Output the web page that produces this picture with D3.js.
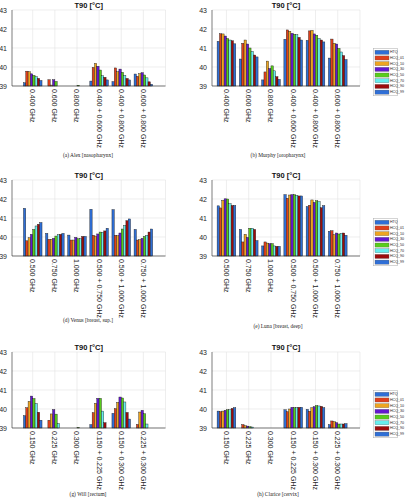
<!DOCTYPE html>
<html><head><meta charset="utf-8">
<script src="https://cdn.jsdelivr.net/npm/d3@7"></script>
<style>body{margin:0;background:#fff}svg{display:block}</style>
</head><body><svg id="c" width="409" height="500"></svg>
<script>
const series = ["HTQ","HCQ_01","HCQ_10","HCQ_30","HCQ_50","HCQ_70","HCQ_90","HCQ_99"];
const catsAlex = ["0.400 GHz","0.600 GHz","0.800 GHz","0.400 + 0.600 GHz","0.400 + 0.800 GHz","0.600 + 0.800 GHz"];
const catsMurphy = catsAlex;
const catsVenus = ["0.500 GHz","0.750 GHz","1.000 GHz","0.500 + 0.750 GHz","0.500 + 1.000 GHz","0.750 + 1.000 GHz"];
const catsLuna = catsVenus;
const catsWill = ["0.150 GHz","0.225 GHz","0.300 GHz","0.150 + 0.225 GHz","0.150 + 0.300 GHz","0.225 + 0.300 GHz"];
const catsClarice = catsWill;
const yTicks = [39,40,41,42,43];

const alex = [
  [39.17,39.78,39.75,39.64,39.56,39.49,39.40,39.29],
  [38.90,39.33,39.05,39.33,39.24,38.95,38.90,38.90],
  [38.90,38.90,38.90,38.90,39.04,38.90,38.90,38.90],
  [39.26,39.98,40.19,40.04,39.84,39.54,39.46,39.32],
  [39.23,39.95,39.75,39.89,39.72,39.56,39.40,39.32],
  [39.63,39.51,39.65,39.70,39.58,39.43,39.22,39.09]
];
const murphy = [
  [41.35,41.75,41.74,41.63,41.50,41.42,41.38,41.22],
  [40.42,41.25,41.42,41.21,41.00,40.82,40.63,40.53],
  [39.32,39.74,40.31,39.92,40.06,39.80,39.49,39.35],
  [41.46,41.95,41.88,41.77,41.72,41.70,41.56,41.42],
  [41.40,41.90,41.93,41.74,41.67,41.50,41.42,41.32],
  [40.47,41.47,41.25,41.21,40.98,40.79,40.60,40.39]
];
const venus = [
  [41.51,39.80,39.96,40.14,40.40,40.58,40.67,40.76],
  [40.19,39.88,39.88,39.93,40.05,40.12,40.14,40.19],
  [40.10,39.84,39.84,39.98,39.91,39.91,40.03,40.03],
  [41.46,40.09,40.05,40.16,40.26,40.25,40.32,40.46],
  [41.44,40.09,40.07,40.21,40.42,40.61,40.86,40.95],
  [40.40,39.84,39.86,39.93,40.03,40.09,40.26,40.42]
];
const luna = [
  [41.64,41.53,41.93,42.01,42.00,41.75,41.66,41.66],
  [40.40,39.74,40.14,39.98,40.46,40.46,40.40,39.81],
  [39.53,39.74,39.68,39.65,39.65,39.53,39.51,39.51],
  [42.23,42.04,42.21,42.23,42.23,42.19,42.16,42.16],
  [41.60,41.67,41.95,41.82,41.91,41.86,41.54,41.65],
  [40.30,40.33,40.12,40.21,40.16,40.19,40.21,40.09]
];
const will = [
  [39.65,40.07,40.40,40.68,40.55,40.29,39.83,39.41],
  [38.90,39.41,39.74,39.97,39.73,39.24,38.90,38.90],
  [38.90,38.90,38.90,38.90,39.03,38.90,38.90,38.90],
  [39.18,39.81,40.30,40.56,40.56,39.89,39.28,38.90],
  [39.77,40.02,40.35,40.63,40.58,40.37,39.82,39.47],
  [38.90,39.19,39.84,39.93,39.75,39.21,38.90,38.90]
];
const clarice = [
  [39.89,39.86,39.89,39.93,39.96,39.96,40.03,40.07],
  [38.90,39.18,39.12,39.10,39.07,39.05,38.90,38.90],
  [38.90,38.90,38.90,38.90,38.90,38.90,38.90,38.90],
  [39.96,39.86,40.00,40.09,40.07,40.07,40.09,40.09],
  [39.98,39.88,40.07,40.12,40.18,40.16,40.14,40.07],
  [39.18,39.37,39.33,39.28,39.21,39.21,39.21,39.23]
];

const colors = ["#2f6fd6","#e0401c","#eea520","#6418d0","#58cc1c","#66eeee","#9c0c0c","#2f6fd6"];

const panels = [
  {data: alex, cats: catsAlex, caption: "(a) Alex [nasopharynx]", col: 0, row: 0, capY: 157},
  {data: murphy, cats: catsMurphy, caption: "(b) Murphy [oropharynx]", col: 1, row: 0, capY: 157, legend: true},
  {data: venus, cats: catsVenus, caption: "(d) Venus [breast, sup.]", col: 0, row: 1, capY: 322},
  {data: luna, cats: catsLuna, caption: "(e) Luna [breast, deep]", col: 1, row: 1, capY: 328, legend: true},
  {data: will, cats: catsWill, caption: "(g) Will [rectum]", col: 0, row: 2, capY: 496},
  {data: clarice, cats: catsClarice, caption: "(h) Clarice [cervix]", col: 1, row: 2, capY: 496, legend: true}
];
const colGeom = [{x0: 10.6, x7: 165.5, left: 12}, {x0: 204.2, x7: 360, left: 212}];
const rowGeom = [{top: 10, bottom: 86}, {top: 180, bottom: 256}, {top: 352, bottom: 428}];

const svg = d3.select("#c");
const SANS = "'Liberation Sans', Arial, sans-serif";
const SERIF = "'Liberation Serif', 'DejaVu Serif', serif";
const axisCol = "#262626";
const gridCol = "#e3e3e3";

panels.forEach(p => {
  const cg = colGeom[p.col], rg = rowGeom[p.row];
  const x = d3.scaleLinear().domain([0, 7]).range([cg.x0, cg.x7]);
  const y = d3.scaleLinear().domain([39, 43]).range([rg.bottom, rg.top]);
  const g = svg.append("g");
  const left = cg.left, right = cg.x7;

  // grid
  g.selectAll(".hg").data(yTicks).join("line")
    .attr("x1", left).attr("x2", right)
    .attr("y1", d => y(d)).attr("y2", d => y(d))
    .attr("stroke", gridCol).attr("stroke-width", 0.6);
  const xt = d3.range(1, 8);
  g.selectAll(".vg").data(xt).join("line")
    .attr("x1", d => x(d)).attr("x2", d => x(d))
    .attr("y1", rg.top).attr("y2", rg.bottom)
    .attr("stroke", gridCol).attr("stroke-width", 0.6);

  // bars
  const gw = 0.84, bw = gw / series.length;
  p.data.forEach((grp, gi) => {
    const c = gi + 1;
    g.selectAll(null).data(grp).join("rect")
      .attr("x", (v, i) => x(c - gw / 2 + i * bw))
      .attr("width", x(bw) - x(0))
      .attr("y", v => y(Math.max(39, v)))
      .attr("height", v => Math.max(0, y(39) - y(Math.max(39, v))))
      .attr("fill", (v, i) => colors[i])
      .attr("stroke", "#1a1a1a").attr("stroke-width", 0.4);
  });

  // axes lines
  g.append("line").attr("x1", left).attr("x2", left).attr("y1", rg.top).attr("y2", rg.bottom)
    .attr("stroke", axisCol).attr("stroke-width", 0.6);
  g.append("line").attr("x1", left).attr("x2", right).attr("y1", rg.bottom).attr("y2", rg.bottom)
    .attr("stroke", axisCol).attr("stroke-width", 0.6);

  // y tick labels
  g.selectAll(".yl").data(yTicks).join("text")
    .attr("x", left - 5).attr("y", d => y(d))
    .attr("text-anchor", "end").attr("dominant-baseline", "central")
    .attr("font-family", SANS).attr("font-size", 7).attr("fill", axisCol)
    .text(d => d);

  // x tick labels
  g.selectAll(".xl").data(p.cats).join("text")
    .attr("transform", (d, i) => `translate(${x(i + 1)},${rg.bottom + 3}) rotate(90)`)
    .attr("text-anchor", "start").attr("dominant-baseline", "central")
    .attr("font-family", SANS).attr("font-size", 7).attr("fill", axisCol)
    .text(d => d);

  // title
  g.append("text").attr("x", (left + right) / 2).attr("y", rg.top - 2.5)
    .attr("text-anchor", "middle").attr("font-family", SANS).attr("font-weight", "bold")
    .attr("font-size", 7.5).attr("fill", "#111").text("T90 [°C]");

  // caption
  g.append("text").attr("x", p.col === 0 ? 88 : 278).attr("y", p.capY)
    .attr("text-anchor", "middle").attr("font-family", SERIF)
    .attr("font-size", 5.4).attr("fill", "#222").text(p.caption);

  // legend
  if (p.legend) {
    const lx = 373.5, lw = 24, lh = 47.5;
    const ly = (rg.top + rg.bottom) / 2 + 24 - lh / 2;
    const lg = svg.append("g").attr("transform", `translate(${lx},${ly})`);
    lg.append("rect").attr("width", lw).attr("height", lh)
      .attr("fill", "#fff").attr("stroke", "#aaa").attr("stroke-width", 0.5);
    const rowH = (lh - 2) / series.length;
    const items = lg.selectAll(".li").data(series).join("g")
      .attr("transform", (d, i) => `translate(0,${1 + i * rowH})`);
    items.append("rect").attr("x", 1.5).attr("y", 1).attr("width", 14).attr("height", rowH - 1.6)
      .attr("fill", (d, i) => colors[i]).attr("stroke", "#555").attr("stroke-width", 0.3);
    items.append("text").attr("x", 16.5).attr("y", rowH / 2 + 0.2)
      .attr("dominant-baseline", "central").attr("font-family", SANS)
      .attr("font-size", 3.6).attr("fill", "#222").text(d => d);
  }
});
</script></body></html>
